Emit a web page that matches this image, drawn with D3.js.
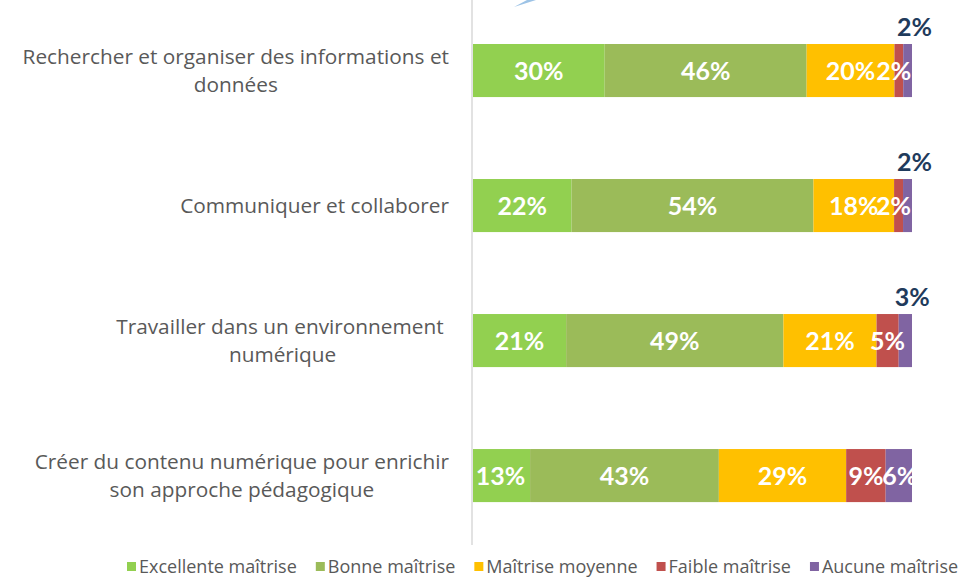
<!DOCTYPE html>
<head>
    <meta charset="utf-8">
    <script src="https://d3js.org/d3.v7.min.js"></script>
    <style>
        body { margin: 0; background: #fff; }
        .cat text { fill: #595959; font-family: "Open Sans", sans-serif; font-size: 20.8px; }
        .inlbl { fill: #fff; font-family: Lato, sans-serif; font-weight: bold; font-size: 25px; }
        .toplbl { fill: #1f3b5c; font-family: Lato, sans-serif; font-weight: bold; font-size: 25px; }
        .legend text { fill: #595959; font-family: "Open Sans", sans-serif; font-size: 18px; }
    </style>
</head>

<body>
    <svg width="962" height="579"></svg>
    <script>
        var width = 962, height = 579;
        var svg = d3.select("svg");

        // data
        var categories = [
            ["Rechercher et organiser des informations et", "données"],
            ["Communiquer et collaborer"],
            ["Travailler dans un environnement\u00a0", "numérique"],
            ["Créer du contenu numérique pour enrichir", "son approche pédagogique"]
        ];
        var series = ["Excellente maîtrise", "Bonne maîtrise", "Maîtrise moyenne", "Faible maîtrise", "Aucune maîtrise"];
        var excellente = [30, 22, 21, 13];
        var bonne = [46, 54, 49, 43];
        var moyenne = [20, 18, 21, 29];
        var faible = [2, 2, 5, 9];
        var aucune = [2, 2, 3, 6];
        var colors = ["#92d050", "#9bbb59", "#ffc000", "#c0504d", "#8064a2"];

        var rows = categories.map((c, i) => ({
            i: i,
            "Excellente maîtrise": excellente[i],
            "Bonne maîtrise": bonne[i],
            "Maîtrise moyenne": moyenne[i],
            "Faible maîtrise": faible[i],
            "Aucune maîtrise": aucune[i]
        }));

        // Excel draws each bar to 100% of its own total
        var stack = d3.stack().keys(series).offset(d3.stackOffsetExpand);
        var layers = stack(rows);

        var x = d3.scaleLinear().domain([0, 1]).range([473, 912]);
        var y = d3.scaleBand().domain(d3.range(categories.length)).range([3.5, 542.6]).paddingInner(0.607).paddingOuter(0.3);

        // light blue fragment at the top edge
        svg.append("path")
            .attr("d", "M514,7 L527,0 L536,0 Z")
            .attr("fill", "#9dc3e6");

        // vertical axis
        svg.append("line")
            .attr("x1", 472).attr("x2", 472)
            .attr("y1", 0).attr("y2", 545)
            .attr("stroke", "#d9d9d9").attr("stroke-width", 1.5);

        var g = svg.append("g").selectAll("g")
            .data(layers)
            .enter().append("g")
            .attr("fill", (d, i) => colors[i]);

        g.selectAll("rect")
            .data(d => d)
            .enter().append("rect")
            .attr("x", d => x(d[0]))
            .attr("width", d => x(d[1]) - x(d[0]))
            .attr("y", d => y(d.data.i))
            .attr("height", y.bandwidth());

        // labels inside segments (last segment goes above the bar when it's tiny)
        layers.forEach((layer, si) => {
            layer.forEach(d => {
                var v = d.data[series[si]];
                var cx = (x(d[0]) + x(d[1])) / 2;
                var cy = y(d.data.i) + y.bandwidth() / 2;
                var above = si === series.length - 1 && v < 5;
                if (above) {
                    svg.append("text").attr("class", "toplbl")
                        .attr("x", cx + 7)
                        .attr("y", y(d.data.i) - 8)
                        .attr("text-anchor", "middle")
                        .text(v + "%");
                } else {
                    var dx = 0;
                    if (si === 3 && v <= 2) dx = -5;
                    if (si === 4) dx = 1;
                    if (si === 0 && v < 15) dx = -1;
                    svg.append("text").attr("class", "inlbl")
                        .attr("x", cx + dx)
                        .attr("y", cy)
                        .attr("dy", "0.36em")
                        .attr("text-anchor", "middle")
                        .text(v + "%");
                }
            });
        });

        // category labels: lines centred on each other, block right-aligned to the axis
        var cat = svg.append("g").attr("class", "cat");
        categories.forEach((lines, i) => {
            var cy = y(i) + y.bandwidth() / 2;
            var t = cat.append("g");
            var texts = lines.map((l, k) => t.append("text")
                .attr("y", cy + (k - (lines.length - 1) / 2) * 28)
                .attr("dy", "0.35em")
                .attr("text-anchor", "middle")
                .text(l));
            var w = d3.max(texts, s => s.node().getComputedTextLength());
            texts.forEach(s => s.attr("x", 449 - w / 2));
        });

        // legend
        var lg = svg.append("g").attr("class", "legend");
        var lx = 127;
        series.forEach((s, i) => {
            lg.append("rect")
                .attr("x", lx).attr("y", 562)
                .attr("width", 9).attr("height", 9)
                .attr("fill", colors[i]);
            var t = lg.append("text")
                .attr("x", lx + 12).attr("y", 567)
                .attr("dy", "0.35em")
                .text(s);
            lx += 12 + t.node().getComputedTextLength() + 19;
        });
    </script>
</body>
